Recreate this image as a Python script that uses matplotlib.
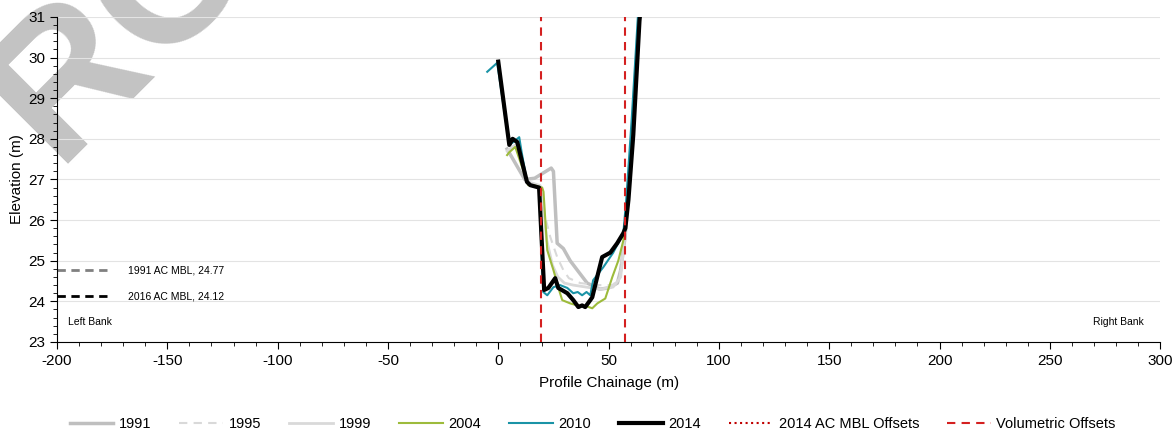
import matplotlib
matplotlib.use("Agg")
import matplotlib.pyplot as plt
from matplotlib.ticker import MultipleLocator
from matplotlib.lines import Line2D

plt.rcParams['font.family'] = ['Liberation Sans', 'DejaVu Sans']
plt.rcParams['axes.unicode_minus'] = False

# survey profiles (chainage m, elevation m)
x1991 = [4, 12, 16.5, 24, 25, 26.7, 29.5, 32.6, 35.8, 40.3, 46, 50, 54, 55.5, 57.5, 60, 64]
y1991 = [27.75, 27.0, 27.03, 27.28, 27.2, 25.43, 25.3, 25.0, 24.77, 24.45, 24.3, 24.33, 24.45, 24.77, 25.6, 27.5, 31.2]

x1995 = [4, 9, 13, 18.5, 20, 21.3, 23.6, 26.7, 29.5, 32, 37.2, 45, 52, 55, 57.5, 60, 64]
y1995 = [27.7, 27.9, 26.95, 26.85, 26.6, 26.07, 25.58, 25.09, 24.77, 24.57, 24.45, 24.4, 24.4, 24.6, 25.7, 27.5, 31.2]

x1999 = [4, 9, 13, 19, 20.5, 22, 24.5, 27, 30, 34, 40, 46, 52, 55.5, 57.5, 60, 64]
y1999 = [27.7, 27.9, 26.95, 26.85, 26.3, 25.5, 24.9, 24.6, 24.45, 24.4, 24.35, 24.3, 24.35, 24.6, 25.7, 27.5, 31.2]

x2004 = [4, 5, 7.7, 13.6, 16, 19.9, 20.5, 22.2, 25, 28, 29, 32.6, 35.8, 40, 42.6, 44.9, 48.5, 51.7, 54.4, 56.7, 58.5, 61, 64]
y2004 = [27.6, 27.67, 27.8, 26.86, 26.86, 26.8, 26.7, 25.26, 24.77, 24.2, 24.03, 23.95, 23.9, 23.88, 23.83, 23.95, 24.07, 24.6, 25.0, 25.5, 26.6, 28.6, 31.2]

x2010 = [-5, -0.5, 5, 7.5, 9.5, 10.5, 13, 14.5, 18.5, 20.4, 22.2, 25, 28, 31.3, 34, 36, 38, 40, 41.7, 43, 47.6, 52, 56.7, 58, 60.5, 63.5]
y2010 = [29.65, 29.87, 27.85, 27.95, 28.04, 27.7, 26.94, 26.86, 26.8, 24.23, 24.15, 24.35, 24.4, 24.33, 24.2, 24.23, 24.15, 24.23, 24.15, 24.52, 24.84, 25.19, 25.68, 26.5, 28.5, 31.2]

x2014 = [0, 5, 6.5, 8.6, 13, 14.5, 18.5, 20.8, 22.7, 25.8, 27.2, 31.3, 34, 36.3, 38, 39.4, 41.7, 42.6, 45.3, 47.1, 50.8, 53.9, 56.7, 57.6, 59, 61.2, 64, 65]
y2014 = [29.9, 27.85, 28.0, 27.92, 26.94, 26.86, 26.8, 24.28, 24.33, 24.57, 24.33, 24.2, 24.03, 23.86, 23.9, 23.86, 24.03, 24.1, 24.7, 25.09, 25.2, 25.43, 25.68, 25.8, 26.5, 28.1, 30.9, 31.5]

vol_offsets = [19.5, 57.5]
mbl_1991 = 24.77
mbl_2016 = 24.12

fig = plt.figure(figsize=(11.76, 4.34), dpi=100)
ax = fig.add_axes([0.0485, 0.212, 0.938, 0.749])
ax.patch.set_alpha(0)

# watermark (only part of it falls on the page)
fig.text(0.047, 0.624, "RO", fontsize=140, fontweight='bold', color='#C3C3C3',
         rotation=45, rotation_mode='anchor', ha='left', va='baseline', zorder=-5)

ax.plot(x1991, y1991, color='#BFBFBF', lw=2.5, zorder=3)
ax.plot(x1995, y1995, color='#D9D9D9', lw=1.5, ls=(0, (4, 3)), zorder=3)
ax.plot(x1999, y1999, color='#D9D9D9', lw=2, zorder=3)
ax.plot(x2004, y2004, color='#9DBB3B', lw=1.5, zorder=4)
ax.plot(x2010, y2010, color='#1A93A6', lw=1.5, zorder=5)
ax.plot(x2014, y2014, color='black', lw=3, zorder=6)

for v in vol_offsets:
    ax.axvline(v, color='#D42020', lw=1.5, ls=(0, (4, 3)), zorder=7)

ax.plot([-200, -175], [mbl_1991, mbl_1991], color='#808080', lw=2, ls=(0, (3, 2)), clip_on=False)
ax.plot([-200, -175], [mbl_2016, mbl_2016], color='black', lw=2, ls=(0, (3, 2)), clip_on=False)
ax.text(-168, mbl_1991, "1991 AC MBL, 24.77", fontsize=7.5, va='center')
ax.text(-168, mbl_2016, "2016 AC MBL, 24.12", fontsize=7.5, va='center')
ax.text(-195, 23.48, "Left Bank", fontsize=7.5, va='center')
ax.text(269.5, 23.48, "Right Bank", fontsize=7.5, va='center')

ax.set_xlim(-200, 300)
ax.set_ylim(23, 31)
ax.xaxis.set_major_locator(MultipleLocator(50))
ax.xaxis.set_minor_locator(MultipleLocator(10))
ax.yaxis.set_major_locator(MultipleLocator(1))
ax.yaxis.set_minor_locator(MultipleLocator(0.2))
ax.tick_params(which='major', length=5, labelsize=11)
ax.tick_params(which='minor', length=3)
ax.grid(axis='y', which='major', color='#E3E3E3', lw=0.8, zorder=0)
ax.set_axisbelow(True)
for s in ['top', 'right']:
    ax.spines[s].set_visible(False)

ax.set_xlabel("Profile Chainage (m)", fontsize=11, labelpad=6)
ax.set_ylabel("Elevation (m)", fontsize=11, labelpad=3)

handles = [
    Line2D([], [], color='#BFBFBF', lw=2.5),
    Line2D([], [], color='#D9D9D9', lw=1.5, ls=(0, (4, 3))),
    Line2D([], [], color='#D9D9D9', lw=2),
    Line2D([], [], color='#9DBB3B', lw=1.5),
    Line2D([], [], color='#1A93A6', lw=1.5),
    Line2D([], [], color='black', lw=3),
    Line2D([], [], color='#C00000', lw=1.5, ls=':'),
    Line2D([], [], color='#D42020', lw=1.5, ls=(0, (4, 3))),
]
labels = ['1991', '1995', '1999', '2004', '2010', '2014', '2014 AC MBL Offsets', 'Volumetric Offsets']
fig.legend(handles, labels, loc='center', bbox_to_anchor=(0.504, 0.022), ncol=8,
           frameon=False, fontsize=10.5, handlelength=3.0, columnspacing=1.9, handletextpad=0.4)

fig.savefig("out.png", dpi=100)
